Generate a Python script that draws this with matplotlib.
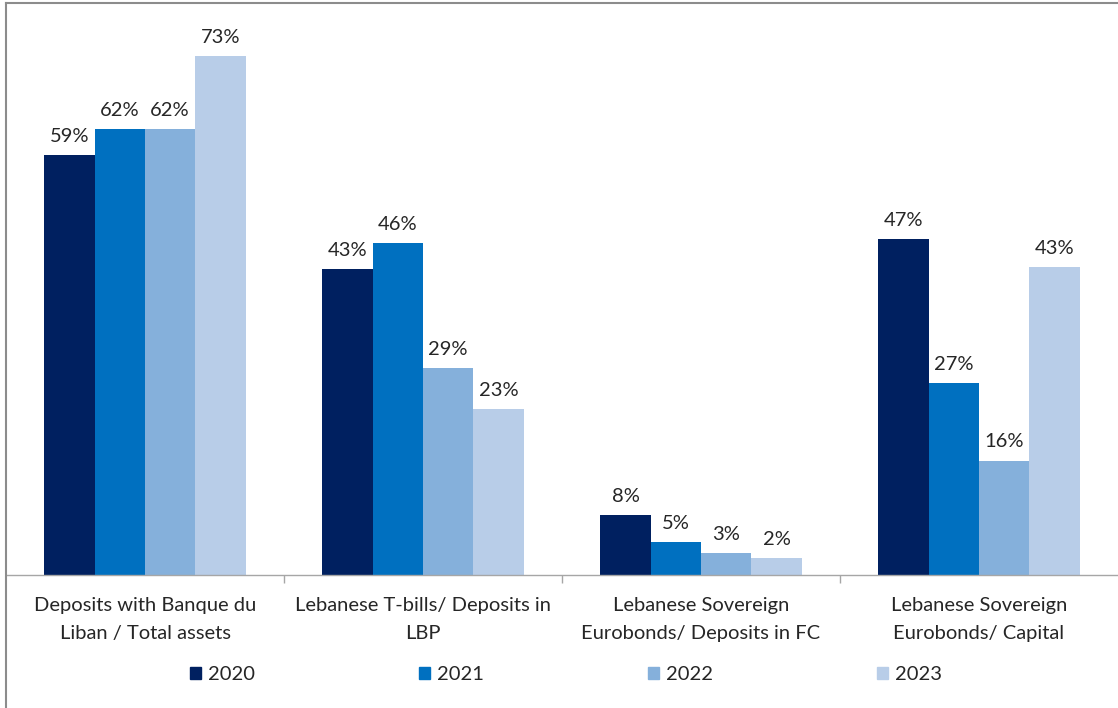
"""Grouped bar chart: Lebanese bank exposure ratios, 2020-2023."""

import matplotlib
matplotlib.use("Agg")
import matplotlib.pyplot as plt
from matplotlib.lines import Line2D
import numpy as np

categories = [
    "Deposits with Banque du\nLiban / Total assets",
    "Lebanese T-bills/ Deposits in\nLBP",
    "Lebanese Sovereign\nEurobonds/ Deposits in FC",
    "Lebanese Sovereign\nEurobonds/ Capital",
]
years = ["2020", "2021", "2022", "2023"]

# values in % (labels are the rounded figures)
vals_2020 = [58.8, 42.8, 8.4, 47.0]
vals_2021 = [62.4, 46.4, 4.6, 26.9]
vals_2022 = [62.4, 29.0, 3.1, 16.0]
vals_2023 = [72.6, 23.2, 2.4, 43.1]
labels_2020 = ["59%", "43%", "8%", "47%"]
labels_2021 = ["62%", "46%", "5%", "27%"]
labels_2022 = ["62%", "29%", "3%", "16%"]
labels_2023 = ["73%", "23%", "2%", "43%"]

series = [vals_2020, vals_2021, vals_2022, vals_2023]
series_labels = [labels_2020, labels_2021, labels_2022, labels_2023]
colors = ["#002060", "#0070C0", "#85B0DB", "#B8CDE8"]

plt.rcParams["font.family"] = ["Lato", "DejaVu Sans"]
FS = 14.5
TXT = "#262626"

W, H = 1118, 708
fig = plt.figure(figsize=(W / 100, H / 100), dpi=100)

ax_left, ax_right = 6 / W, 1118 / W
ax_bottom, ax_top = 1 - 575 / H, 1 - 10 / H
ax = fig.add_axes([ax_left, ax_bottom, ax_right - ax_left, ax_top - ax_bottom])

x = np.arange(len(categories))
bw = 0.181
for i, (vals, labs) in enumerate(zip(series, series_labels)):
    pos = x + (i - 1.5) * bw
    bars = ax.bar(pos, vals, width=bw, color=colors[i], label=years[i], zorder=2)
    for b, lab in zip(bars, labs):
        ax.annotate(lab, xy=(b.get_x() + b.get_width() / 2, b.get_height()),
                    xytext=(0, 9.5), textcoords="offset points",
                    ha="center", va="baseline", fontsize=FS, color=TXT)

ax.set_xlim(-0.5, 3.5)
ax.set_ylim(0, 565 / 7.147)
ax.set_yticks([])
for s in ["top", "right", "left"]:
    ax.spines[s].set_visible(False)
ax.spines["bottom"].set_color("#A6A6A6")
ax.spines["bottom"].set_linewidth(1.0)

ax.set_xticks(x)
ax.set_xticklabels(categories, fontsize=FS, color=TXT, linespacing=1.75)
ax.tick_params(axis="x", which="major", length=0, pad=16)
ax.set_xticks([0.5, 1.5, 2.5], minor=True)
ax.tick_params(axis="x", which="minor", length=6, color="#A6A6A6", width=1.0)

handles = [plt.Rectangle((0, 0), 1, 1, color=c) for c in colors]
fig.legend(handles, years, loc="center", bbox_to_anchor=(566 / W, 1 - 675 / H),
           ncol=4, frameon=False, fontsize=FS, handlelength=0.55, handleheight=0.55,
           handletextpad=0.35, columnspacing=8.15, labelcolor=TXT)

# chart frame: only top and left edges are visible in the reference
fig.add_artist(Line2D([6 / W, 1], [1 - 3 / H, 1 - 3 / H], color="#8C8C8C", lw=1.5,
                      transform=fig.transFigure))
fig.add_artist(Line2D([6 / W, 6 / W], [0, 1 - 3 / H], color="#8C8C8C", lw=1.5,
                      transform=fig.transFigure))

fig.savefig("out.png", dpi=100)
plt.close(fig)
